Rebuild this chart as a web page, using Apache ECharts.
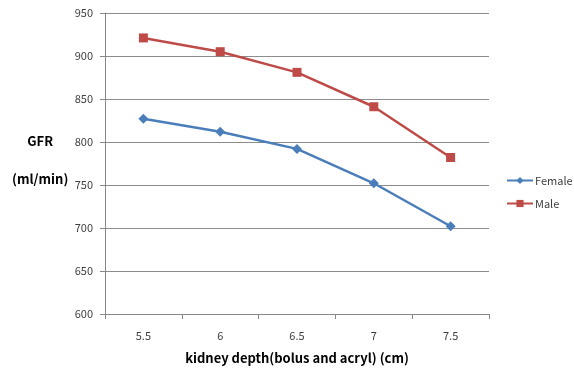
<!DOCTYPE html>
<html>
<head>
<meta charset="utf-8">
<script src="https://cdn.jsdelivr.net/npm/echarts@6/dist/echarts.min.js"></script>
<style>
  html, body { margin: 0; padding: 0; background: #fff; }
  #chart { width: 574px; height: 370px; }
</style>
</head>
<body>
<div id="chart"></div>
<script>
const depths = ['5.5', '6', '6.5', '7', '7.5']
const female = [827, 812, 792, 752, 702]
const male = [921, 905, 881, 841, 782]

const font = '"Noto Sans CJK KR", "Noto Sans", sans-serif'
const chart = echarts.init(document.getElementById('chart'))

chart.setOption({
  animation: false,
  textStyle: { fontFamily: font },
  grid: { left: 105, right: 85, top: 13, bottom: 52 },
  legend: {
    orient: 'vertical',
    left: 506,
    top: 175,
    padding: 0,
    itemWidth: 26,
    itemHeight: 9,
    itemGap: 12,
    textStyle: { fontSize: 11, color: '#404040', fontFamily: font, padding: [0, 0, 0, -3] },
    data: ['Female', 'Male']
  },
  xAxis: {
    type: 'category',
    data: depths,
    boundaryGap: true,
    name: 'kidney depth(bolus and acryl) (cm)',
    nameLocation: 'middle',
    nameGap: 38,
    nameTextStyle: { fontSize: 13, fontWeight: 'bold', color: '#000' },
    axisLine: { lineStyle: { color: '#888', width: 1 } },
    axisTick: { show: true, length: 5, alignWithLabel: false, lineStyle: { color: '#888' } },
    axisLabel: { fontSize: 11, color: '#404040', margin: 16 }
  },
  yAxis: {
    type: 'value',
    min: 600,
    max: 950,
    interval: 50,
    axisLine: { show: true, lineStyle: { color: '#888' } },
    axisTick: { show: true, length: 5, inside: false, lineStyle: { color: '#888' } },
    axisLabel: { fontSize: 11, color: '#404040', margin: 12 },
    splitLine: { lineStyle: { color: '#8c8c8c', width: 1 } }
  },
  graphic: [{
    type: 'text',
    left: 12,
    top: 122,
    style: {
      text: 'GFR\n(ml/min)',
      x: 26,
      font: 'bold 13px ' + font,
      fill: '#000',
      lineHeight: 38,
      textAlign: 'center'
    }
  }],
  series: [
    {
      name: 'Female',
      type: 'line',
      data: female,
      symbol: 'diamond',
      symbolSize: 10,
      lineStyle: { color: '#4a7ebb', width: 2.5 },
      itemStyle: { color: '#4a7ebb' }
    },
    {
      name: 'Male',
      type: 'line',
      data: male,
      symbol: 'rect',
      symbolSize: 9,
      lineStyle: { color: '#be4b48', width: 2.5 },
      itemStyle: { color: '#be4b48' }
    }
  ]
})
</script>
</body>
</html>
